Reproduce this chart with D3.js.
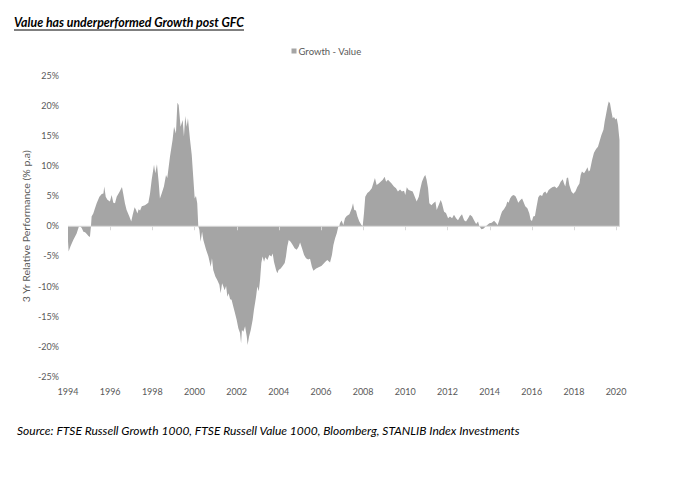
<!DOCTYPE html>
<html>
<head>
<meta charset="utf-8">
<script src="https://cdn.jsdelivr.net/npm/d3@7/dist/d3.min.js"></script>
<style>
  html, body { margin: 0; padding: 0; background: #fff; }
  svg { display: block; }
  text { font-family: Lato, "Open Sans", "Liberation Sans", sans-serif; }
</style>
</head>
<body>
<svg id="chart" width="699" height="478"></svg>
<script>
// ---- Data ----
const titleText = "Value has underperformed Growth post GFC";
const sourceText = "Source: FTSE Russell Growth 1000, FTSE Russell Value 1000, Bloomberg, STANLIB Index Investments";
const seriesName = "Growth - Value";
const yAxisTitle = "3 Yr Relative Performance (% p.a)";

const xTickLabels = ["1994","1996","1998","2000","2002","2004","2006","2008","2010","2012","2014","2016","2018","2020"];
const yTickValues = [-25, -20, -15, -10, -5, 0, 5, 10, 15, 20, 25];

// decimal year of each observation
const dates = [
1994.00,1994.03,1994.12,1994.25,1994.41,1994.52,1994.60,1994.65,1994.73,1994.81,1994.89,1994.97,1995.04,1995.09,
1995.12,1995.20,1995.28,1995.36,1995.49,1995.60,1995.68,1995.72,1995.79,1995.87,1995.99,1996.07,1996.15,1996.23,
1996.31,1996.44,1996.56,1996.62,1996.70,1996.78,1996.91,1997.00,1997.07,1997.16,1997.23,1997.29,1997.35,1997.42,
1997.50,1997.65,1997.81,1997.89,1997.97,1998.08,1998.14,1998.22,1998.30,1998.36,1998.44,1998.55,1998.65,1998.71,
1998.84,1998.96,1999.03,1999.12,1999.19,1999.25,1999.34,1999.44,1999.50,1999.56,1999.63,1999.69,1999.79,1999.87,
1999.94,2000.01,2000.07,2000.13,2000.18,
2000.23,2000.29,2000.36,2000.42,2000.55,2000.66,2000.77,2000.83,2000.89,2000.99,2001.08,2001.18,2001.24,2001.31,
2001.37,2001.43,2001.50,2001.56,2001.62,2001.69,2001.76,2001.84,2001.92,2002.00,2002.08,2002.16,2002.21,2002.25,
2002.32,2002.40,2002.48,2002.52,2002.59,2002.67,2002.76,2002.82,2002.92,2002.98,2003.05,2003.11,2003.17,2003.23,
2003.30,2003.36,2003.46,2003.55,2003.65,2003.71,2003.77,2003.87,2003.93,2003.99,2004.09,2004.18,2004.28,2004.34,
2004.40,2004.47,2004.56,2004.66,2004.75,2004.85,2004.94,2005.01,2005.10,2005.20,2005.29,2005.39,2005.48,2005.57,
2005.64,2005.77,2005.89,2006.02,2006.11,2006.21,2006.30,2006.43,2006.52,2006.59,2006.67,2006.75,2006.82,2006.87,
2006.90,2006.98,2007.06,2007.14,2007.22,2007.35,2007.46,2007.52,2007.58,2007.66,2007.73,2007.82,2007.92,2007.98,
2008.04,2008.10,2008.20,2008.29,2008.41,2008.48,2008.56,2008.64,2008.74,2008.83,2008.93,2009.02,2009.09,2009.18,
2009.27,2009.35,2009.46,2009.56,2009.65,2009.75,2009.84,2009.94,2010.00,2010.07,2010.16,2010.26,2010.35,2010.45,
2010.54,2010.64,2010.70,2010.79,2010.89,2010.95,2011.01,2011.08,2011.14,2011.24,2011.33,2011.43,2011.49,2011.58,
2011.68,2011.74,2011.84,2011.93,2012.03,2012.12,2012.22,2012.31,2012.41,2012.50,2012.60,2012.69,2012.79,2012.88,
2012.98,2013.07,2013.17,2013.26,2013.36,2013.45,2013.51,2013.61,2013.70,2013.80,2013.89,2013.99,
2014.10,2014.21,2014.30,2014.38,2014.46,2014.53,2014.59,2014.68,2014.78,2014.84,2014.90,2014.97,2015.05,2015.13,
2015.22,2015.28,2015.36,2015.44,2015.54,2015.60,2015.69,2015.79,2015.88,2015.95,2016.01,2016.07,2016.15,2016.23,
2016.31,2016.39,2016.49,2016.55,2016.64,2016.71,2016.80,2016.90,2016.99,2017.09,2017.18,2017.28,2017.37,2017.47,
2017.53,2017.59,2017.66,2017.72,2017.78,2017.88,2017.97,2018.07,2018.16,2018.26,2018.32,2018.38,2018.48,2018.57,
2018.64,2018.70,2018.76,2018.86,2018.95,2019.05,2019.14,2019.21,2019.30,2019.40,2019.46,2019.52,2019.59,2019.65,
2019.71,2019.78,2019.84,2019.90,2019.97,2020.03,2020.09,2020.16
];

// Growth minus Value, 3 yr relative performance (% p.a.)
const values = [
-2.5,-4.2,-3.3,-2.3,-1.2,0.0,-0.1,-0.3,-0.9,-1.0,-1.3,-1.6,-1.8,0.0,
1.6,2.1,3.0,3.8,4.9,5.35,5.45,6.6,4.9,4.4,4.1,5.2,3.9,3.8,
4.9,5.7,6.5,5.4,3.8,2.7,1.6,0.8,1.9,3.15,2.7,2.1,2.8,2.6,
3.3,3.5,3.9,5.4,7.7,10.2,8.8,10.3,7.4,4.6,5.4,6.6,8.5,8.0,
11.6,14.3,16.5,15.4,20.5,20.1,16.5,17.6,14.9,18.3,16.5,17.9,14.3,11.8,
8.2,4.6,5.0,3.8,0.0,
-0.6,-2.55,-0.9,-2.3,-3.9,-5.0,-6.7,-5.3,-7.25,-8.35,-8.9,-9.7,-11.1,-9.45,
-10.0,-10.6,-9.9,-11.7,-11.1,-12.1,-12.2,-13.3,-14.4,-15.5,-16.9,-17.7,-19.4,-17.2,
-17.5,-16.6,-18.3,-19.7,-18.3,-17.2,-15.5,-13.9,-11.7,-10.0,-10.8,-8.9,-6.1,-5.0,
-5.9,-5.15,-5.6,-4.75,-5.0,-4.5,-5.9,-7.25,-7.8,-7.25,-7.0,-6.6,-6.1,-5.0,
-3.4,-2.3,-2.55,-3.1,-3.65,-3.9,-3.4,-2.7,-3.65,-4.75,-5.3,-5.5,-5.4,-6.7,
-7.4,-7.0,-6.8,-6.6,-6.25,-5.9,-5.6,-6.0,-4.75,-3.1,-2.0,-1.16,-0.07,0.0,
0.5,0.94,0.22,1.33,1.7,2.0,3.0,3.8,2.7,2.6,1.6,0.77,0.22,0.05,
2.16,4.9,5.5,5.75,6.3,7.1,8.0,6.85,7.1,7.4,7.7,8.2,7.4,7.7,
7.4,7.1,6.6,6.3,5.75,6.1,5.75,5.9,5.2,6.45,6.0,5.9,5.75,4.9,
4.1,4.9,6.0,7.4,8.2,8.5,7.7,6.3,3.8,3.5,3.8,4.1,2.7,3.5,
4.35,3.8,2.4,2.2,1.33,1.6,1.33,1.9,1.33,1.0,1.6,2.0,1.0,0.77,
1.33,1.9,1.6,1.0,0.38,0.77,0.05,-0.5,-0.4,-0.07,0.22,0.5,
0.6,0.93,0.6,0.22,1.05,1.87,2.43,2.8,3.4,4.1,3.9,4.6,5.0,5.2,
5.0,4.6,3.9,4.25,4.6,4.1,3.3,3.0,2.15,1.05,0.88,1.6,1.7,3.3,
4.8,5.2,5.0,5.5,5.75,5.4,6.0,6.3,6.5,6.6,6.3,6.7,7.4,7.8,
7.1,6.6,8.0,8.1,6.85,5.75,5.4,5.75,6.5,7.1,8.5,9.1,8.8,9.3,
9.8,9.1,9.3,11.0,12.2,12.8,13.2,14.0,15.1,16.0,17.4,18.5,19.8,20.7,
20.4,19.0,17.9,18.1,17.7,17.9,16.8,14.3
];

// ---- Layout ----
const svg = d3.select("#chart");
const fillColor = "#a5a5a5";
const textGray = "#595959";
const axisGray = "#d9d9d9";

const plot = { left: 68, right: 616.1, top: 75.5, bottom: 377 };

const x = d3.scaleLinear().domain([1994, 2020]).range([plot.left, plot.right]);
const y = d3.scaleLinear().domain([-25, 25]).range([plot.bottom, plot.top]);

function fitText(sel, target) {
  const node = sel.node();
  const len = node.getComputedTextLength();
  if (Math.abs(len - target) / target > 0.01) {
    sel.attr("textLength", target).attr("lengthAdjust", "spacingAndGlyphs");
  }
  return sel;
}

// Title
const title = svg.append("text")
  .attr("x", 14).attr("y", 27)
  .attr("font-size", 14).attr("font-weight", "bold").attr("font-style", "italic")
  .attr("fill", "#000")
  .text(titleText);
fitText(title, 230);
svg.append("line")
  .attr("x1", 14).attr("x2", 244).attr("y1", 30).attr("y2", 30)
  .attr("stroke", "#000").attr("stroke-width", 1);

// Legend
svg.append("rect")
  .attr("x", 291.5).attr("y", 48.5).attr("width", 5).attr("height", 5)
  .attr("fill", fillColor);
const leg = svg.append("text")
  .attr("x", 298.5).attr("y", 54.5)
  .attr("font-size", 9.5).attr("fill", textGray)
  .text(seriesName);
fitText(leg, 62.5);

// Area
const data = dates.map((d, i) => ({ t: d, v: values[i] }));
const area = d3.area()
  .x(d => x(d.t))
  .y0(y(0))
  .y1(d => y(d.v))
  .curve(d3.curveLinear);
svg.append("path")
  .datum(data)
  .attr("d", area)
  .attr("fill", fillColor)
  .attr("stroke", "none");

// Zero axis line with ticks
const xEnd = x(dates[dates.length - 1]) + 0.5;
svg.append("line")
  .attr("x1", plot.left).attr("x2", xEnd)
  .attr("y1", y(0)).attr("y2", y(0))
  .attr("stroke", axisGray).attr("stroke-width", 1);

const xTicks = xTickLabels.map(s => +s);
svg.append("g").selectAll("line")
  .data(xTicks.slice(1))
  .join("line")
  .attr("x1", d => Math.round(x(d)) + 0.5).attr("x2", d => Math.round(x(d)) + 0.5)
  .attr("y1", y(0)).attr("y2", y(0) + 4)
  .attr("stroke", axisGray).attr("stroke-width", 1);

// X tick labels
svg.append("g").selectAll("text")
  .data(xTickLabels)
  .join("text")
  .attr("x", d => x(+d))
  .attr("y", 395)
  .attr("text-anchor", "middle")
  .attr("font-size", 9)
  .attr("fill", textGray)
  .text(d => d);

// Y tick labels
svg.append("g").selectAll("text")
  .data(yTickValues)
  .join("text")
  .attr("x", 59)
  .attr("y", d => y(d) + 3)
  .attr("text-anchor", "end")
  .attr("font-size", 9)
  .attr("fill", textGray)
  .text(d => d + "%");

// Y axis title
const yt = svg.append("text")
  .attr("transform", `translate(30,${(plot.top + plot.bottom) / 2}) rotate(-90)`)
  .attr("text-anchor", "middle")
  .attr("font-size", 9.5)
  .attr("fill", textGray)
  .text(yAxisTitle);
fitText(yt, 152);

// Source
const src = svg.append("text")
  .attr("x", 17).attr("y", 435)
  .attr("font-size", 12).attr("font-style", "italic")
  .attr("fill", "#000")
  .text(sourceText);
fitText(src, 502);
</script>
</body>
</html>
